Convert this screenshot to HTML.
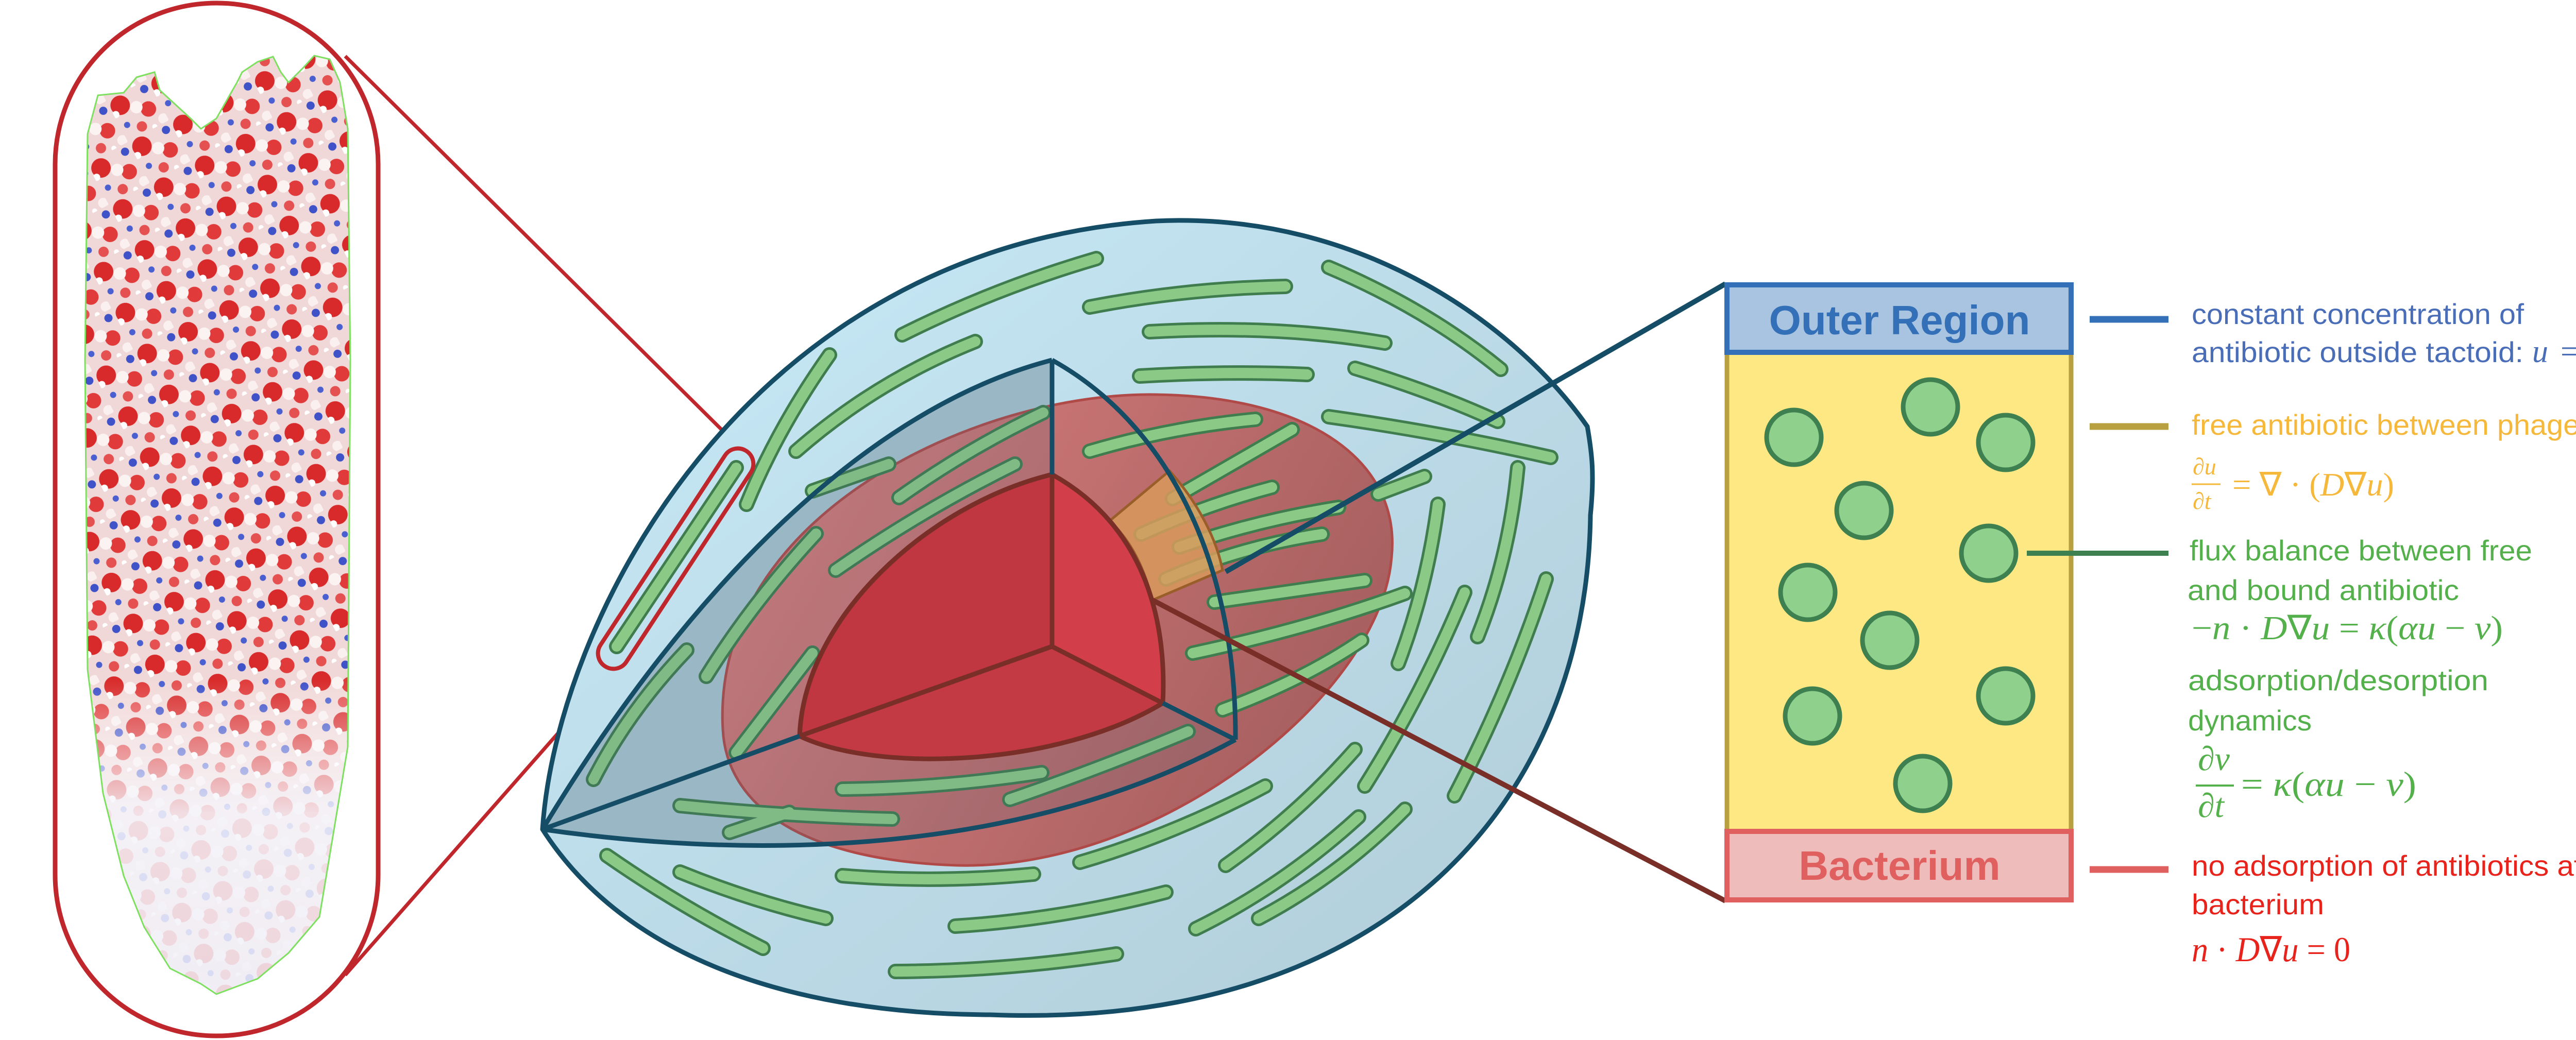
<!DOCTYPE html>
<html><head><meta charset="utf-8"><style>html,body{margin:0;padding:0;background:#fff}svg{display:block}</style></head>
<body>
<svg xmlns="http://www.w3.org/2000/svg" width="5090" height="2019" viewBox="0 0 5090 2019">
<defs>
<linearGradient id="shell" x1="0" y1="0" x2="1" y2="1"><stop offset="0" stop-color="#c8eaf8"/><stop offset="1" stop-color="#b0ccd8"/></linearGradient>
<linearGradient id="ell" x1="0" y1="0" x2="1" y2="0.4"><stop offset="0" stop-color="#de8080"/><stop offset="1" stop-color="#a86060"/></linearGradient>
<pattern id="prot" width="90" height="90" patternUnits="userSpaceOnUse" patternTransform="rotate(-28)">
<rect width="90" height="90" fill="#f1d8d8"/>
<circle cx="20" cy="20" r="19" fill="#d82a2a"/><circle cx="65" cy="52" r="15" fill="#e03a3a"/><circle cx="38" cy="76" r="10" fill="#e55050"/>
<circle cx="46" cy="38" r="12" fill="#fbf2f2"/><circle cx="82" cy="82" r="10" fill="#faf0f0"/><circle cx="4" cy="32" r="7" fill="#fff"/>
<circle cx="76" cy="14" r="8" fill="#3f52c8"/><circle cx="14" cy="60" r="6" fill="#4a5fd0"/><circle cx="60" cy="88" r="5" fill="#ffffff"/>
</pattern>
<linearGradient id="fade" x1="0" y1="0" x2="0" y2="1"><stop offset="0.66" stop-color="#fff" stop-opacity="0"/><stop offset="0.8" stop-color="#f4f4fa" stop-opacity="0.88"/><stop offset="1" stop-color="#f0f0f8" stop-opacity="0.85"/></linearGradient>
<clipPath id="bund"><path d="M170,260 L190,185 L240,180 L265,150 L300,140 L310,175 L370,230 L390,250 L420,230 L460,160 L470,140 L500,120 L530,110 L545,140 L560,160 L590,130 L610,108 L640,115 L660,160 L675,250 L680,700 L675,1450 L650,1600 L620,1780 L560,1850 L500,1900 L420,1930 L390,1910 L330,1880 L280,1800 L240,1700 L200,1540 L170,1300 L165,700 Z"/></clipPath>
</defs>

<rect x="107" y="6" width="627" height="2005" rx="313" fill="#fff" stroke="#c0272d" stroke-width="9"/>
<g clip-path="url(#bund)">
<rect x="150" y="90" width="560" height="1860" fill="url(#prot)"/>
<rect x="150" y="90" width="560" height="1860" fill="url(#fade)"/>
</g>
<path d="M170,260 L190,185 L240,180 L265,150 L300,140 L310,175 L370,230 L390,250 L420,230 L460,160 L470,140 L500,120 L530,110 L545,140 L560,160 L590,130 L610,108 L640,115 L660,160 L675,250 L680,700 L675,1450 L650,1600 L620,1780 L560,1850 L500,1900 L420,1930 L390,1910 L330,1880 L280,1800 L240,1700 L200,1540 L170,1300 L165,700 Z" fill="none" stroke="#7ee060" stroke-width="3"/>

<line x1="670" y1="109" x2="1455" y2="888" stroke="#c0272d" stroke-width="7"/>
<line x1="1197" y1="1294" x2="670" y2="1893" stroke="#c0272d" stroke-width="7"/>

<path d="M1053,1610 C1080,1200 1450,480 2244,429 C2650,410 2950,640 3081,828 C3090,880 3095,920 3087,1000 C3080,1550 2700,2000 1922,1970 C1500,1968 1200,1840 1053,1610 Z" fill="url(#shell)"/>
<path d="M1053,1610 C1300,1200 1650,800 2042,699 L2042,1255 L2398,1436 C1950,1680 1400,1660 1053,1610 Z" fill="#a9c6d2"/>
<path d="M1403,1416 C1380,1000 1900,760 2244,766 C2550,770 2720,900 2701,1082 C2680,1350 2250,1690 1858,1680 C1550,1670 1410,1560 1403,1416 Z" fill="url(#ell)" stroke="#b04a48" stroke-width="5"/>

<g fill="none" stroke-linecap="round">
<g stroke="#3f7d4e" stroke-width="30">
<path d="M1751,650 Q1930,560 2128,502"/><path d="M2115,596 Q2300,560 2495,556"/><path d="M2579,519 Q2770,600 2913,717"/>
<path d="M2231,644 Q2480,630 2688,666"/><path d="M2212,730 Q2380,720 2537,727"/><path d="M2630,715 Q2780,760 2907,818"/>
<path d="M2579,809 Q2800,840 3010,888"/><path d="M2946,908 Q2930,1080 2868,1236"/><path d="M2791,979 Q2770,1140 2714,1288"/>
<path d="M2843,1150 Q2760,1350 2649,1526"/><path d="M3001,1124 Q2930,1340 2823,1545"/><path d="M2630,1455 Q2520,1580 2379,1680"/>
<path d="M2456,1526 Q2280,1620 2096,1674"/><path d="M2727,1571 Q2600,1700 2443,1783"/><path d="M2637,1586 Q2490,1720 2321,1803"/>
<path d="M2115,876 Q2270,830 2437,814"/><path d="M2276,968 L2508,834"/><path d="M2215,1037 Q2340,980 2469,946"/>
<path d="M2289,1062 Q2440,1010 2598,985"/><path d="M2263,1124 Q2410,1060 2566,1037"/><path d="M2357,1169 L2649,1127"/>
<path d="M2315,1268 Q2540,1220 2727,1152"/><path d="M2373,1378 Q2530,1320 2643,1243"/><path d="M2675,959 L2765,925"/>
<path d="M1960,1552 Q2140,1490 2306,1420"/><path d="M1545,876 Q1700,740 1893,663"/><path d="M1610,689 Q1510,830 1449,979"/>
<path d="M1429,908 L1197,1255"/><path d="M1333,1262 Q1220,1380 1152,1513"/><path d="M1577,1268 L1429,1461"/>
<path d="M1584,1036 Q1460,1170 1371,1313"/><path d="M1622,1107 Q1790,990 1970,901"/><path d="M1745,966 Q1880,870 2025,801"/>
<path d="M1577,953 L1725,901"/><path d="M1320,1564 Q1530,1585 1732,1590"/><path d="M1416,1616 L1532,1577"/>
<path d="M1635,1532 Q1830,1530 2022,1500"/><path d="M1178,1661 Q1320,1760 1481,1841"/><path d="M1320,1693 Q1460,1750 1603,1783"/>
<path d="M1635,1700 Q1820,1715 2006,1697"/><path d="M1854,1798 Q2060,1785 2263,1732"/><path d="M1738,1886 Q1950,1885 2167,1852"/>
</g>
<g stroke="#8bca86" stroke-width="20">
<path d="M1751,650 Q1930,560 2128,502"/><path d="M2115,596 Q2300,560 2495,556"/><path d="M2579,519 Q2770,600 2913,717"/>
<path d="M2231,644 Q2480,630 2688,666"/><path d="M2212,730 Q2380,720 2537,727"/><path d="M2630,715 Q2780,760 2907,818"/>
<path d="M2579,809 Q2800,840 3010,888"/><path d="M2946,908 Q2930,1080 2868,1236"/><path d="M2791,979 Q2770,1140 2714,1288"/>
<path d="M2843,1150 Q2760,1350 2649,1526"/><path d="M3001,1124 Q2930,1340 2823,1545"/><path d="M2630,1455 Q2520,1580 2379,1680"/>
<path d="M2456,1526 Q2280,1620 2096,1674"/><path d="M2727,1571 Q2600,1700 2443,1783"/><path d="M2637,1586 Q2490,1720 2321,1803"/>
<path d="M2115,876 Q2270,830 2437,814"/><path d="M2276,968 L2508,834"/><path d="M2215,1037 Q2340,980 2469,946"/>
<path d="M2289,1062 Q2440,1010 2598,985"/><path d="M2263,1124 Q2410,1060 2566,1037"/><path d="M2357,1169 L2649,1127"/>
<path d="M2315,1268 Q2540,1220 2727,1152"/><path d="M2373,1378 Q2530,1320 2643,1243"/><path d="M2675,959 L2765,925"/>
<path d="M1960,1552 Q2140,1490 2306,1420"/><path d="M1545,876 Q1700,740 1893,663"/><path d="M1610,689 Q1510,830 1449,979"/>
<path d="M1429,908 L1197,1255"/><path d="M1333,1262 Q1220,1380 1152,1513"/><path d="M1577,1268 L1429,1461"/>
<path d="M1584,1036 Q1460,1170 1371,1313"/><path d="M1622,1107 Q1790,990 1970,901"/><path d="M1745,966 Q1880,870 2025,801"/>
<path d="M1577,953 L1725,901"/><path d="M1320,1564 Q1530,1585 1732,1590"/><path d="M1416,1616 L1532,1577"/>
<path d="M1635,1532 Q1830,1530 2022,1500"/><path d="M1178,1661 Q1320,1760 1481,1841"/><path d="M1320,1693 Q1460,1750 1603,1783"/>
<path d="M1635,1700 Q1820,1715 2006,1697"/><path d="M1854,1798 Q2060,1785 2263,1732"/><path d="M1738,1886 Q1950,1885 2167,1852"/>
</g>
</g>
<path d="M1053,1610 C1300,1200 1650,800 2042,699 L2042,1255 L2398,1436 C1950,1680 1400,1660 1053,1610 Z" fill="#4a6a80" fill-opacity="0.16"/>

<path d="M2154,1011 L2270,914 C2320,970 2360,1040 2373,1107 L2237,1165 C2220,1100 2195,1050 2154,1011 Z" fill="#d89a5c" fill-opacity="0.85" stroke="#9a5e2a" stroke-width="5"/>

<g stroke="#7a2e28" stroke-width="9" stroke-linejoin="round">
<path d="M2042,921 C1800,980 1560,1200 1552,1429 L2042,1255 Z" fill="#c13741"/>
<path d="M1552,1429 L2042,1255 L2257,1365 C2050,1490 1700,1500 1552,1429 Z" fill="#c33a44"/>
<path d="M2042,921 L2042,1255 L2257,1365 C2265,1200 2220,1020 2042,921 Z" fill="#d23e49"/>
</g>

<g fill="none" stroke="#164d66" stroke-width="9" stroke-linejoin="round">
<path d="M1053,1610 C1300,1200 1650,800 2042,699"/>
<path d="M2042,699 C2260,820 2400,1080 2398,1436"/>
<path d="M1053,1610 C1400,1660 1950,1680 2398,1436"/>
<line x1="1053" y1="1610" x2="1552" y2="1429"/>
<line x1="2042" y1="699" x2="2042" y2="921"/>
<line x1="2398" y1="1436" x2="2257" y2="1365"/>
<path d="M1053,1610 C1080,1200 1450,480 2244,429 C2650,410 2950,640 3081,828 C3090,880 3095,920 3087,1000 C3080,1550 2700,2000 1922,1970 C1500,1968 1200,1840 1053,1610 Z"/>
</g>

<rect x="1061.5" y="-30" width="500" height="60" rx="30" transform="translate(1311.5,1084.5) rotate(123.3) translate(-1311.5,0)" fill="none" stroke="#c0272d" stroke-width="8"/>

<line x1="2379" y1="1110" x2="3349" y2="551" stroke="#164d66" stroke-width="10"/>
<line x1="2237" y1="1165" x2="3349" y2="1749" stroke="#7a2e28" stroke-width="10"/>

<rect x="3352" y="684" width="668" height="930" fill="#fee883" stroke="#b8a040" stroke-width="9"/>
<rect x="3352" y="553" width="668" height="131" fill="#a8c4e0" stroke="#3470b7" stroke-width="10"/>
<rect x="3352" y="1614" width="668" height="133" fill="#efbcbc" stroke="#e06060" stroke-width="10"/>
<text x="3687" y="649" text-anchor="middle" font-family="Liberation Sans, sans-serif" font-weight="bold" font-size="80" fill="#3470b7">Outer Region</text>
<text x="3687" y="1708" text-anchor="middle" font-family="Liberation Sans, sans-serif" font-weight="bold" font-size="80" fill="#e06060">Bacterium</text>
<g fill="#8ed08c" stroke="#3f8050" stroke-width="9">
<circle cx="3482" cy="849" r="53"/><circle cx="3747" cy="790" r="53"/><circle cx="3893" cy="859" r="53"/>
<circle cx="3618" cy="991" r="53"/><circle cx="3860" cy="1074" r="53"/><circle cx="3509" cy="1150" r="53"/>
<circle cx="3668" cy="1243" r="53"/><circle cx="3518" cy="1390" r="53"/><circle cx="3893" cy="1351" r="53"/>
<circle cx="3732" cy="1521" r="53"/>
</g>
<line x1="4056" y1="620" x2="4209" y2="620" stroke="#3470b7" stroke-width="13"/>
<line x1="4056" y1="828" x2="4209" y2="828" stroke="#b8a040" stroke-width="13"/>
<line x1="3934" y1="1074" x2="4209" y2="1074" stroke="#3f8050" stroke-width="10"/>
<line x1="4056" y1="1688" x2="4209" y2="1688" stroke="#e06060" stroke-width="13"/>

<g font-family="Liberation Sans, sans-serif" font-size="56">
<text x="4254" y="629" fill="#4a6db8" textLength="645" lengthAdjust="spacingAndGlyphs">constant concentration of</text>
<text x="4254" y="703" fill="#4a6db8" textLength="644" lengthAdjust="spacingAndGlyphs">antibiotic outside tactoid:</text>
<text y="703" fill="#4a6db8" font-family="Liberation Serif, serif" font-style="italic" font-size="62"><tspan x="4915">u</tspan><tspan x="4970" font-style="normal">=</tspan><tspan x="5035">u</tspan><tspan x="5070" font-size="40" dy="10" font-style="normal">0</tspan></text>

<text x="4254" y="844" fill="#f5b83a" textLength="782" lengthAdjust="spacingAndGlyphs">free antibiotic between phages</text>
<g fill="#f5b83a" font-family="Liberation Serif, serif" font-style="italic">
<text x="4256" y="921" font-size="46">∂u</text>
<line x1="4254" y1="940" x2="4310" y2="940" stroke="#f5b83a" stroke-width="3"/>
<text x="4256" y="988" font-size="46">∂t</text>
<text x="4333" y="962" font-size="64" textLength="314" lengthAdjust="spacingAndGlyphs"><tspan font-style="normal">= ∇ · (</tspan>D<tspan font-style="normal">∇</tspan>u<tspan font-style="normal">)</tspan></text>
</g>

<text x="4250" y="1088" fill="#53b04a" textLength="665" lengthAdjust="spacingAndGlyphs">flux balance between free</text>
<text x="4246" y="1165" fill="#53b04a" textLength="527" lengthAdjust="spacingAndGlyphs">and bound antibiotic</text>
<text x="4254" y="1241" fill="#53b04a" font-family="Liberation Serif, serif" font-style="italic" font-size="66" textLength="604" lengthAdjust="spacingAndGlyphs"><tspan font-style="normal">−</tspan>n <tspan font-style="normal">·</tspan> D<tspan font-style="normal">∇</tspan>u <tspan font-style="normal">=</tspan> κ<tspan font-style="normal">(</tspan>αu <tspan font-style="normal">−</tspan> v<tspan font-style="normal">)</tspan></text>
<text x="4247" y="1340" fill="#53b04a" textLength="583" lengthAdjust="spacingAndGlyphs">adsorption/desorption</text>
<text x="4247" y="1418" fill="#53b04a" textLength="240" lengthAdjust="spacingAndGlyphs">dynamics</text>
<g fill="#53b04a" font-family="Liberation Serif, serif" font-style="italic">
<text x="4266" y="1495" font-size="66">∂v</text>
<line x1="4262" y1="1525" x2="4336" y2="1525" stroke="#53b04a" stroke-width="4"/>
<text x="4266" y="1586" font-size="66">∂t</text>
<text x="4350" y="1545" font-size="68" textLength="340" lengthAdjust="spacingAndGlyphs"><tspan font-style="normal">=</tspan> κ<tspan font-style="normal">(</tspan>αu <tspan font-style="normal">−</tspan> v<tspan font-style="normal">)</tspan></text>
</g>

<text x="4254" y="1700" fill="#e8231c" textLength="758" lengthAdjust="spacingAndGlyphs">no adsorption of antibiotics at</text>
<text x="4254" y="1775" fill="#e8231c" textLength="257" lengthAdjust="spacingAndGlyphs">bacterium</text>
<text x="4254" y="1866" fill="#e8231c" font-family="Liberation Serif, serif" font-style="italic" font-size="68" textLength="308" lengthAdjust="spacingAndGlyphs">n <tspan font-style="normal">·</tspan> D<tspan font-style="normal">∇</tspan>u <tspan font-style="normal">= 0</tspan></text>
</g>
</svg>
</body></html>
